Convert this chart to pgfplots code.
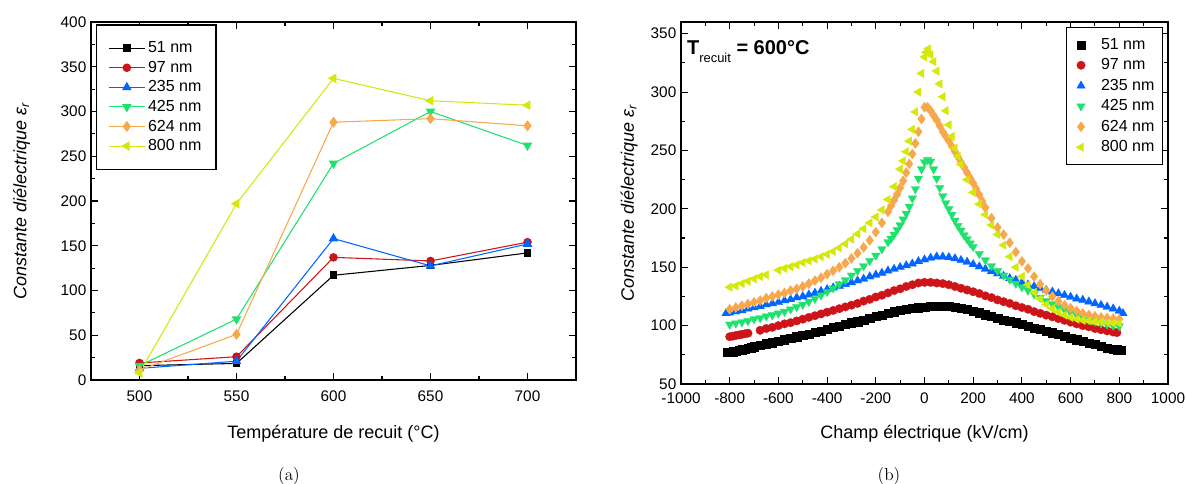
\documentclass[border=0pt]{standalone}
\usepackage{fontspec}
\usepackage{pgfplots}
\pgfplotsset{compat=1.18}
\newfontfamily\arial{Liberation Sans}
\definecolor{cred}{RGB}{205,20,25}
\definecolor{cblue}{RGB}{0,102,255}
\definecolor{cgreen}{RGB}{30,225,110}
\definecolor{corange}{RGB}{247,168,76}
\definecolor{cyel}{RGB}{212,232,10}
\pgfplotsset{
  myaxis/.style={
    scale only axis,
    axis line style={line width=1pt},
    every tick/.style={line width=0.8pt, black},
    tick align=inside,
    major tick length=5pt,
    minor tick length=3pt,
    minor tick num=1,
    ticklabel style={font=\arial\fontsize{11.5}{13}\selectfont},
    /pgf/number format/assume math mode=true,
    label style={font=\arial\fontsize{13.5}{15}\selectfont},
    legend style={draw=black, line width=0.9pt, font=\arial\fontsize{12}{14}\selectfont,
      legend cell align=left},
  },
  markleg/.style={legend image code/.code={\path[draw=none,fill=none] (0pt,-2pt) rectangle (20pt,2pt); \draw[mark repeat=2,mark phase=2,##1] plot coordinates {(0pt,0pt) (7pt,0pt) (20pt,0pt)};}},
}
\begin{document}
\begin{tikzpicture}
\path[use as bounding box] (0,0) rectangle (889.5pt,363pt);
% ---------------- (a) ----------------
\begin{axis}[myaxis,
  at={(68.25pt,78pt)}, anchor=south west,
  width=363.75pt, height=268.5pt,
  xmin=475, xmax=725, ymin=0, ymax=400,
  xtick={500,550,600,650,700},
  ytick={0,50,100,150,200,250,300,350,400},
  xticklabel style={yshift=-4.5pt},
  xlabel={Température de recuit (°C)},
  ylabel={\itshape Constante diélectrique ε\textsubscript{r}},
  xlabel style={at={(axis description cs:0.5,-0.1508)}, anchor=center},
  ylabel style={at={(axis description cs:-0.1433,0.5)}, anchor=center},
  legend style={at={(0.0097,0.993)}, anchor=north west, inner xsep=9pt, inner ysep=10.5pt, row sep=0.8pt},
  legend image code/.code={\draw[mark repeat=2,mark phase=2] plot coordinates {(0pt,0pt) (13.5pt,0pt) (27pt,0pt)};},
]
\addplot[black, line width=0.8pt, mark=square*, mark size=2.5pt, mark options={fill=black}]
  coordinates {(500,16) (550,18.5) (600,117) (650,128) (700,142)};
\addlegendentry{51 nm}
\addplot[cred, line width=0.8pt, mark=*, mark size=2.8pt, mark options={fill=cred}]
  coordinates {(500,19) (550,26) (600,137) (650,133) (700,154)};
\addlegendentry{97 nm}
\addplot[cblue, line width=0.8pt, mark=triangle*, mark size=3.4pt, mark options={fill=cblue}]
  coordinates {(500,13) (550,21) (600,158) (650,127.5) (700,152)};
\addlegendentry{235 nm}
\addplot[cgreen, line width=0.8pt, mark=triangle*, mark size=3.4pt, mark options={fill=cgreen, rotate=180}]
  coordinates {(500,16) (550,68) (600,242) (650,300) (700,262)};
\addlegendentry{425 nm}
\addplot[corange, line width=0.8pt, mark=diamond*, mark size=3.5pt, mark options={fill=corange}]
  coordinates {(500,11) (550,51) (600,288) (650,292) (700,284)};
\addlegendentry{624 nm}
\addplot[cyel, line width=0.8pt, mark=triangle*, mark size=3.4pt, mark options={fill=cyel, rotate=90}]
  coordinates {(500,8) (550,197) (600,337) (650,312) (700,307)};
\addlegendentry{800 nm\rule[-6pt]{0pt}{6pt}}
\end{axis}
% ---------------- (b) ----------------
\begin{axis}[myaxis,
  at={(510.75pt,75pt)}, anchor=south west,
  width=365.25pt, height=271.5pt,
  xmin=-1000, xmax=1000, ymin=50, ymax=360,
  xtick={-1000,-800,-600,-400,-200,0,200,400,600,800,1000},
  xticklabels={-1000,-800,-600,-400,-200,0,200,400,600,800,1000},
  xticklabel style={yshift=-3pt},
  ytick={50,100,150,200,250,300,350},
  xlabel={Champ électrique (kV/cm)},
  ylabel={\itshape Constante diélectrique ε\textsubscript{r}},
  xlabel style={at={(axis description cs:0.5,-0.1377)}, anchor=center},
  ylabel style={at={(axis description cs:-0.1068,0.5)}, anchor=center},
  legend style={at={(0.9897,0.986)}, anchor=north east, inner xsep=4pt, inner ysep=6pt, row sep=1.5pt},
]
\addplot[only marks, markleg, mark=square*, mark size=3.1pt, mark options={fill=black, draw=black, line width=0.2pt}]
coordinates {(-810,77) (-787,77.8) (-775,78) (-762,78.8) (-750,79.5) (-737,80) (-725,80.5) (-712,81.2) (-700,82) (-675,83) (-650,84.5) (-625,85.5) (-600,87) (-575,88) (-550,89.5) (-525,90.5) (-500,92) (-475,93) (-450,94.5) (-425,95.5) (-400,97) (-375,98.5) (-350,99.5) (-325,101) (-300,102.5) (-275,103.5) (-250,105) (-225,106.5) (-200,108) (-175,109) (-150,110.5) (-125,112) (-100,113) (-75,114) (-50,115) (-25,115.5) (0,116) (25,116.5) (50,116.5) (75,116.5) (100,116.5) (125,116) (150,115) (175,114) (200,112.5) (225,111) (250,109.5) (275,108) (300,106.5) (325,105) (350,104) (375,102.5) (400,101) (425,99.5) (450,98) (475,97) (500,95.5) (525,94) (550,92.5) (575,91) (600,89.5) (625,88) (650,86.5) (675,85) (700,84) (725,82.5) (750,81) (775,80) (790,79.5) (805,79)};
\addlegendentry{51 nm}
\addplot[only marks, markleg, mark=*, mark size=3.2pt, mark options={fill=cred, draw=cred, line width=0.2pt}]
coordinates {(-800,90.5) (-787,91) (-775,91.5) (-762,92) (-750,92.5) (-737,93) (-725,93.5) (-675,96) (-650,97.5) (-625,98.5) (-600,100) (-575,101.5) (-550,102.5) (-525,104) (-500,105.5) (-475,107) (-450,108.5) (-425,110) (-400,111.5) (-375,113) (-350,114.5) (-325,116) (-300,117.5) (-275,119) (-250,121) (-225,122.5) (-200,124.5) (-175,126) (-150,128) (-125,130) (-100,131.5) (-75,133.5) (-50,135) (-25,136.5) (0,137) (25,137) (50,136.5) (75,136) (100,135) (125,133.5) (150,132) (175,130.5) (200,129) (225,127.5) (250,125.5) (275,124) (300,122) (325,120.5) (350,119) (375,117) (400,115.5) (425,114) (450,112) (475,110.5) (500,109) (525,107.5) (550,106) (575,104.5) (600,103) (625,101.5) (650,100) (675,99) (700,97.5) (725,96.5) (750,95.5) (775,94.5) (790,94)};
\addlegendentry{97 nm}
\addplot[only marks, markleg, mark=triangle*, mark size=3.7pt, mark options={fill=cblue, draw=cblue, line width=0.2pt}]
coordinates {(-815,110.5) (-800,111) (-775,112) (-750,113) (-725,114.5) (-700,115.5) (-675,116.5) (-650,118) (-625,119) (-600,120) (-575,121.5) (-550,122.5) (-525,124) (-500,125) (-475,126.5) (-450,128) (-425,129.5) (-400,131) (-375,132.5) (-350,134) (-325,135.5) (-300,137) (-275,138.5) (-250,140) (-225,142) (-200,143.5) (-175,145) (-150,147) (-125,148.5) (-100,150) (-75,151.5) (-50,153) (-25,155) (0,156.5) (25,158) (50,159) (75,159) (100,158.5) (125,157.5) (150,156) (175,154.5) (200,152.5) (225,150.5) (250,148.5) (275,146.5) (300,144.5) (325,142.5) (350,140.5) (375,139) (400,137) (425,135) (450,133.5) (475,132) (500,130.5) (525,129) (550,127.5) (575,126) (600,124.5) (625,123) (650,122) (675,120.5) (700,119) (725,117.5) (750,116) (775,114.5) (800,112.5) (815,110.5)};
\addlegendentry{235 nm}
\addplot[only marks, markleg, mark=triangle*, mark size=3.7pt, mark options={fill=cgreen, draw=cgreen, line width=0.2pt, rotate=180}]
coordinates {(-800,101) (-775,102) (-750,103) (-725,104) (-700,105.5) (-675,106.5) (-650,108) (-625,109) (-600,110.5) (-575,112) (-550,114) (-525,116) (-500,118) (-475,120.5) (-450,123) (-425,126) (-400,129) (-375,132) (-350,135.5) (-325,139) (-300,143) (-275,147) (-250,151) (-225,155.5) (-200,160) (-175,165.5) (-150,171.5) (-137.5,174.5) (-125,178) (-112.5,182) (-100,186) (-87.5,191) (-75,196) (-62.5,202) (-50,209) (-37.5,217) (-25,226) (-12.5,234) (0,240) (12.5,242) (25,240.5) (37.5,234) (50,226) (62.5,218) (75,211) (87.5,205) (100,200) (112.5,195) (125,190) (137.5,185.5) (150,181.5) (162.5,177.5) (175,174) (187.5,170.5) (200,167.5) (225,161.5) (250,156) (275,151) (300,147) (325,143) (350,139.5) (375,136) (400,133) (425,130) (450,127) (475,124) (500,121) (525,118.5) (550,116) (575,113.5) (600,111) (625,109) (650,107) (675,105) (700,103.5) (725,102) (750,101) (775,100) (800,99.5)};
\addlegendentry{425 nm}
\addplot[only marks, markleg, mark=diamond*, mark size=3.8pt, mark options={fill=corange, draw=corange, line width=0.2pt}]
coordinates {(-800,114) (-775,115.5) (-750,117) (-725,118.5) (-700,120) (-675,121.5) (-650,123.5) (-625,125) (-600,126.5) (-575,128) (-550,130) (-525,131.5) (-500,133.5) (-475,136) (-450,138.5) (-425,141) (-400,144) (-375,147) (-350,150) (-325,153.5) (-300,157.5) (-275,162) (-250,167) (-225,173) (-200,180) (-175,188) (-150,197.5) (-137.5,202.5) (-125,207.5) (-112.5,212.5) (-100,218) (-87.5,224) (-75,231) (-62.5,238.5) (-50,247) (-37.5,256) (-25,266) (-12.5,277) (0,287) (12.5,287) (25,284) (37.5,280) (50,276) (62.5,271) (75,266) (87.5,262) (100,258) (112.5,253.5) (125,249) (137.5,244.5) (150,240) (162.5,235.5) (175,231) (187.5,226.5) (200,222) (212.5,217) (225,212) (237.5,206.5) (250,201) (275,192) (300,184) (325,178) (350,171) (375,163) (400,155) (425,149) (450,142) (475,135.5) (500,130) (525,125) (550,121) (575,117.5) (600,115) (625,112.5) (650,110.5) (675,109) (700,108) (725,107) (750,106.5) (775,106) (800,105.5)};
\addlegendentry{624 nm}
\addplot[only marks, markleg, mark=triangle*, mark size=3.7pt, mark options={fill=cyel, draw=cyel, line width=0.2pt, rotate=90}]
coordinates {(-800,133) (-775,134) (-750,136) (-725,138) (-700,140) (-675,142) (-650,143.5) (-600,147.5) (-575,149) (-550,150.5) (-525,152) (-500,154) (-475,155.5) (-450,157) (-425,159) (-400,161) (-375,163.5) (-350,166.5) (-325,170) (-300,174) (-275,178.5) (-250,183) (-225,188) (-200,193) (-175,199) (-150,208) (-125,219) (-100,234) (-87.5,241) (-75,249) (-62.5,258) (-50,268) (-37.5,283) (-25,300) (-12.5,316) (0,330) (7,334) (15,337) (25,332) (37.5,326) (50,318) (62.5,307) (75,296) (87.5,284) (100,272) (112.5,262) (125,252) (137.5,245) (150,238) (175,225) (200,214) (225,204) (250,195) (275,186) (300,178) (325,169) (350,159) (375,150) (400,142) (425,135) (450,128.5) (475,123) (500,118) (525,114.5) (550,111.5) (575,109) (600,107) (625,105.5) (650,104.5) (675,104) (700,103.5) (725,103) (750,102.5) (775,102) (800,102)};
\addlegendentry{800 nm}
\node[anchor=base west, inner sep=0pt, font=\arial\bfseries\fontsize{15}{17}\selectfont]
  at (rel axis cs:0.012,0.909) {T\raisebox{-6pt}{\mdseries\fontsize{9.7}{11}\selectfont recuit} = 600°C};
\end{axis}
\node[font=\fontsize{13}{15}\selectfont] at (216.75pt,6pt) {(a)};
\node[font=\fontsize{13}{15}\selectfont] at (666.75pt,6pt) {(b)};
\end{tikzpicture}
\end{document}
